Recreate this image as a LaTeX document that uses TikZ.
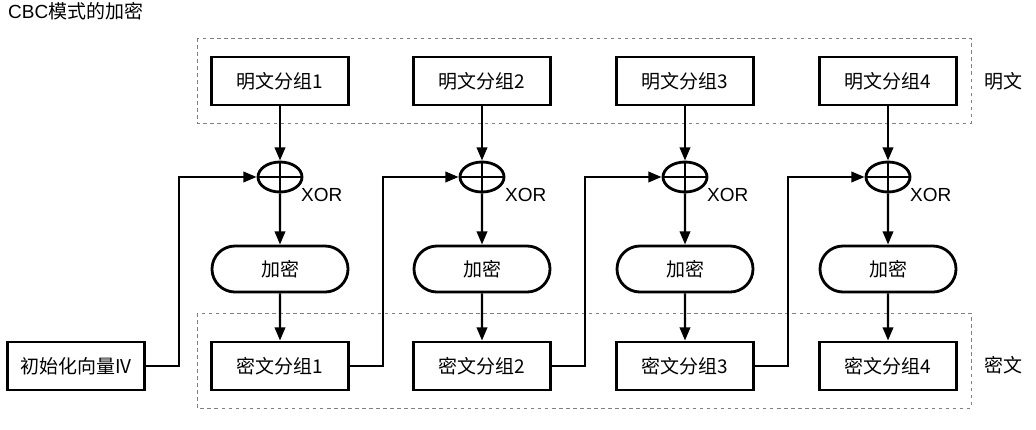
\documentclass[tikz,border=0pt]{standalone}
\usepackage{fontspec}
\setmainfont{Noto Sans CJK SC}
\newfontfamily\latinfont{Liberation Sans}
\usetikzlibrary{graphs}
\usetikzlibrary {arrows.meta}
\usetikzlibrary{shapes.geometric}
\usetikzlibrary{shapes.misc}

\tikzset{
    blockbox/.style={draw, line width=2pt, minimum width=3.425cm, minimum height=1.2cm, inner sep=0pt},
    encbox/.style={draw, rounded rectangle, line width=2pt, minimum width=3.4cm, minimum height=1.15cm, inner sep=0pt},
    xorop/.style={draw, ellipse, line width=2pt, minimum width=1.1cm, minimum height=0.75cm, inner sep=0pt},
    groupbox/.style={draw=gray, line width=0.7pt, dash pattern=on 2.5pt off 2.5pt},
}

\begin{document}
\begin{tikzpicture}[x=0.025cm, y=-0.025cm, line width=1.7pt,
        >={Triangle[length=0.33cm,width=0.26cm]}, font=\fontsize{13.5}{16}\selectfont]
        \useasboundingbox (0,0) rectangle (1036,429);
        \node[anchor=west, inner sep=0pt] (title) at (7,11) {{\latinfont CBC}模式的加密};
        \draw[groupbox] (197,38) rectangle (971,123);
        \draw[groupbox] (197,313) rectangle (971,408);
        \node (plainlab) at (1003,81) {明文}; \node (cipherlab) at (1003,365) {密文};

        \node[blockbox] (plain1) at (280,81) {明文分组1}; \node[blockbox]
        (plain2) at (482,81) {明文分组2}; \node[blockbox] (plain3) at (685,81)
        {明文分组3}; \node[blockbox] (plain4) at (888,81) {明文分组4};
        \node[xorop] (op1) at (280,177) {}; \node[xorop] (op2) at (482,177) {};
        \node[xorop] (op3) at (685,177) {}; \node[xorop] (op4) at (888,177) {};
        \node[anchor=west, inner sep=0pt] (oplab1) at (300,195) {\latinfont XOR};
        \node[anchor=west, inner sep=0pt] (oplab2) at (504,195) {\latinfont XOR};
        \node[anchor=west, inner sep=0pt] (oplab3) at (706,195) {\latinfont XOR};
        \node[anchor=west, inner sep=0pt] (oplab4) at (909,195) {\latinfont XOR};
        \node[encbox] (enc1) at (280,269) {加密}; \node[encbox] (enc2) at
        (482,269) {加密}; \node[encbox] (enc3) at (685,269) {加密};
        \node[encbox] (enc4) at (888,269) {加密};
        \node[blockbox] (cipher1) at (280,366) {密文分组1}; \node[blockbox]
        (cipher2) at (482,366) {密文分组2}; \node[blockbox] (cipher3) at
        (685,366) {密文分组3}; \node[blockbox] (cipher4) at (888,366)
        {密文分组4}; \node[blockbox] (iv) at (76,366) {初始化向量IV};

        \draw (op1.west) -- (op1.east) (op1.north) -- (op1.south);
        \draw (op2.west) -- (op2.east) (op2.north) -- (op2.south);
        \draw (op3.west) -- (op3.east) (op3.north) -- (op3.south);
        \draw (op4.west) -- (op4.east) (op4.north) -- (op4.south);

        \graph {(plain1) -> (op1) -> (enc1) -> (cipher1);};
        \graph {(plain2) -> (op2) -> (enc2) -> (cipher2);};
        \graph {(plain3) -> (op3) -> (enc3) -> (cipher3);};
        \graph {(plain4) -> (op4) -> (enc4) -> (cipher4);};

        \draw[->] (iv.east) -- ++(33,0) |- (op1.west);
        \draw[->] (cipher1.east) -- ++(33,0) |- (op2.west);
        \draw[->] (cipher2.east) -- ++(33,0) |- (op3.west);
        \draw[->] (cipher3.east) -- ++(33,0) |- (op4.west);
    \end{tikzpicture}
\end{document}
